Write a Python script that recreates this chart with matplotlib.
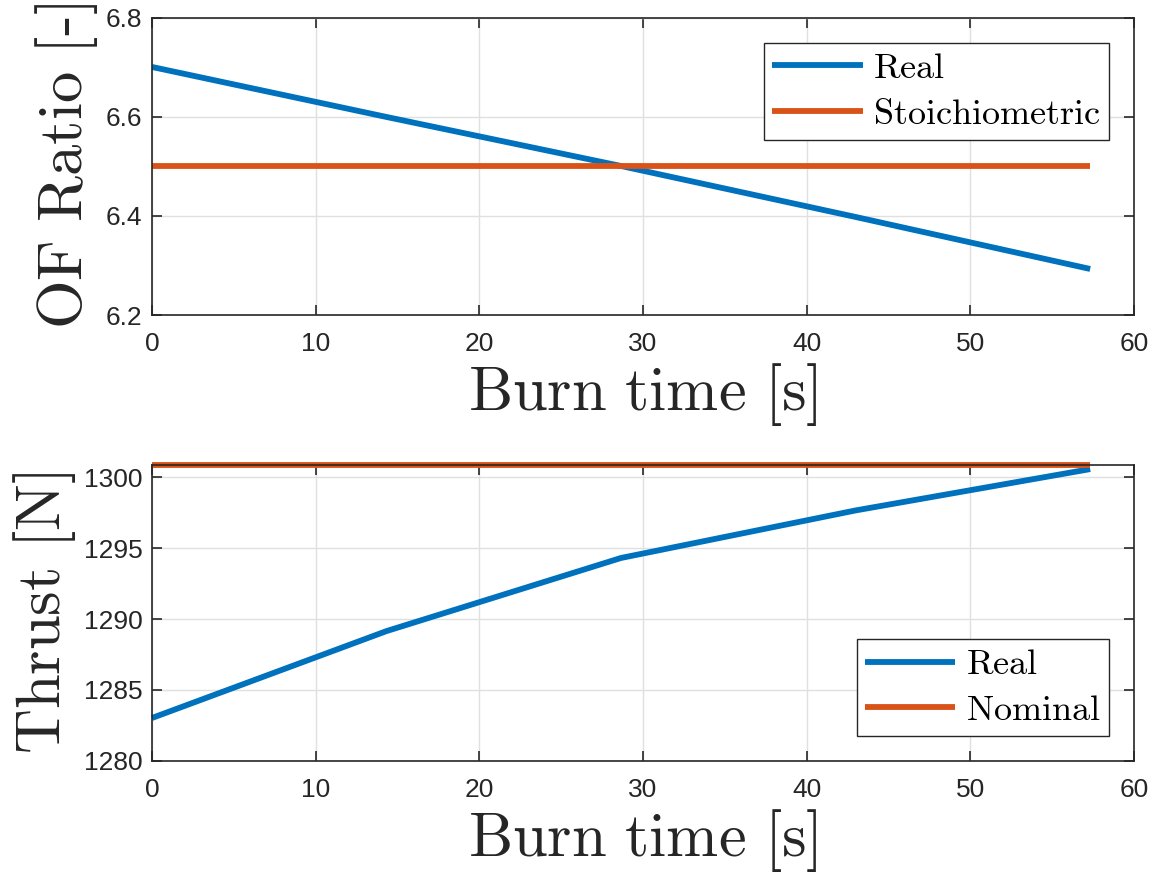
import matplotlib
matplotlib.use("Agg")
import matplotlib.pyplot as plt

# ---- data ----
burn_time = [0.0, 14.33, 28.66, 43.0, 57.33]
of_real = [6.701, 6.600, 6.501, 6.398, 6.293]
of_stoich = [6.5, 6.5, 6.5, 6.5, 6.5]
thrust_real = [1283.03, 1289.15, 1294.30, 1297.65, 1300.56]
thrust_nominal = [1300.85, 1300.85, 1300.85, 1300.85, 1300.85]

x_ticks = [0, 10, 20, 30, 40, 50, 60]
of_ticks = [6.2, 6.4, 6.6, 6.8]
thrust_ticks = [1280, 1285, 1290, 1295, 1300]

BLUE = "#0072BD"
ORANGE = "#D95319"
AXC = "#262626"

plt.rcParams["mathtext.fontset"] = "cm"
plt.rcParams["font.family"] = ["Liberation Sans", "DejaVu Sans"]

fig = plt.figure(figsize=(11.57, 8.76), dpi=100)
ax1 = fig.add_axes([0.1314, 0.6404, 0.8486, 0.3391])
ax2 = fig.add_axes([0.1314, 0.1313, 0.8486, 0.3379])


def style(ax):
    for s in ax.spines.values():
        s.set_color(AXC)
        s.set_linewidth(1.2)
    ax.tick_params(direction="in", length=7, width=1.2, colors=AXC,
                   labelsize=19, top=True, right=True)
    ax.tick_params(axis="x", pad=12)
    ax.tick_params(axis="y", pad=7)
    ax.grid(True, color="#e0e0e0", linewidth=1.0)
    ax.set_axisbelow(True)


lw = 4.2
leg_kw = dict(borderaxespad=0, fontsize=26, fancybox=False, framealpha=1,
              edgecolor="#262626", handlelength=2.5, handletextpad=0.3,
              borderpad=0.22, labelspacing=0.3)

ax1.plot(burn_time, of_real, color=BLUE, lw=lw, label=r"$\mathrm{Real}$",
         solid_capstyle="butt")
ax1.plot(burn_time, of_stoich, color=ORANGE, lw=lw,
         label=r"$\mathrm{Stoichiometric}$", solid_capstyle="butt")
ax1.set_xlim(0, 60)
ax1.set_ylim(6.2, 6.8)
ax1.set_xticks(x_ticks)
ax1.set_yticks(of_ticks)
ax1.set_yticklabels([f"{v:.1f}" for v in of_ticks])
style(ax1)
ax1.set_xlabel(r"$\mathrm{Burn\ time\ [s]}$", fontsize=45, color=AXC, labelpad=4)
ax1.set_ylabel(r"$\mathrm{OF\ Ratio\ [\text{-}]}$", fontsize=45, color=AXC, labelpad=4)
leg1 = ax1.legend(loc="upper right", bbox_to_anchor=(0.9745, 0.9158), **leg_kw)
leg1.get_frame().set_linewidth(1.0)

ax2.plot(burn_time, thrust_real, color=BLUE, lw=lw, label=r"$\mathrm{Real}$",
         solid_capstyle="butt", clip_on=False)
ax2.plot(burn_time, thrust_nominal, color=ORANGE, lw=lw,
         label=r"$\mathrm{Nominal}$", solid_capstyle="butt", clip_on=False)
ax2.set_xlim(0, 60)
ax2.set_ylim(1280, 1300.85)
ax2.set_xticks(x_ticks)
ax2.set_yticks(thrust_ticks)
style(ax2)
ax2.set_xlabel(r"$\mathrm{Burn\ time\ [s]}$", fontsize=45, color=AXC, labelpad=4)
ax2.set_ylabel(r"$\mathrm{Thrust\ [N]}$", fontsize=45, color=AXC, labelpad=4)
leg2 = ax2.legend(loc="lower right", bbox_to_anchor=(0.9745, 0.0845), **leg_kw)
leg2.get_frame().set_linewidth(1.0)

fig.savefig("out.png", dpi=100)
